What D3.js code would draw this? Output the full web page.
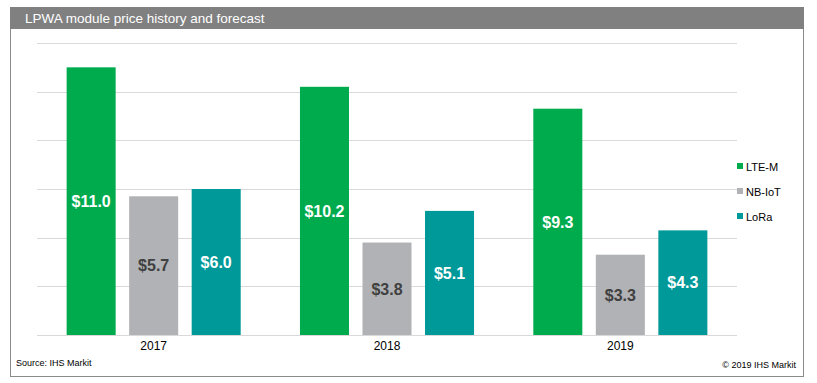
<!DOCTYPE html>
<html><head><meta charset="utf-8">
<script src="https://cdn.jsdelivr.net/npm/d3@7"></script>
<style>body{margin:0;background:#fff;}svg{display:block;font-family:"Liberation Sans",Arial,sans-serif;}</style>
</head><body><svg id="c" width="817" height="383"></svg>
<script>
const years = ["2017","2018","2019"];
const seriesNames = ["LTE-M","NB-IoT","LoRa"];
const lteM = [11.0, 10.2, 9.3];
const nbIoT = [5.7, 3.8, 3.3];
const loRa = [6.0, 5.1, 4.3];
const yTicks = [0,2,4,6,8,10,12];
const colors = ["#00ab4e","#b1b2b5","#009999"];
const labelColors = ["#ffffff","#404040","#ffffff"];
const values = [lteM, nbIoT, loRa];

(function(){
const svg = d3.select("#c");
// panel
svg.append("rect").attr("x",10.5).attr("y",7.5).attr("width",793).attr("height",369).attr("fill","#fff").attr("stroke","#8a8a8a").attr("stroke-width",1);
svg.append("rect").attr("x",10).attr("y",7).attr("width",794).attr("height",22).attr("fill","#7f807f");
svg.append("text").attr("x",25).attr("y",23).attr("fill","#fff").attr("font-size",13.5).text("LPWA module price history and forecast");

const pLeft=37, pRight=737, pTop=43, pBottom=335;
const y = d3.scaleLinear().domain([0,12]).range([pBottom, pTop]);
const x0 = d3.scaleBand().domain(years).range([pLeft,pRight]).paddingInner(0.254).paddingOuter(0.127);
const x1 = d3.scaleBand().domain(seriesNames).range([0,x0.bandwidth()]).paddingInner(0.216).paddingOuter(0);

// gridlines
svg.append("g").selectAll("line").data(yTicks).join("line")
  .attr("x1",pLeft).attr("x2",pRight).attr("y1",d=>Math.round(y(d))+0.5).attr("y2",d=>Math.round(y(d))+0.5)
  .attr("stroke","#d9d9d9").attr("stroke-width",1);

// bars
const g = svg.append("g");
years.forEach((yr,i)=>{
  seriesNames.forEach((s,j)=>{
    const v = values[j][i];
    const bx = x0(yr)+x1(s);
    g.append("rect").attr("x",bx).attr("y",y(v)).attr("width",x1.bandwidth()).attr("height",y(0)-y(v)).attr("fill",colors[j]);
    g.append("text").attr("x",bx+x1.bandwidth()/2).attr("y",(y(v)+y(0))/2).attr("dy","0.36em")
      .attr("text-anchor","middle").attr("font-size",16).attr("font-weight","bold").attr("fill",labelColors[j])
      .text("$"+v.toFixed(1));
  });
});

// x axis
const xAxis = d3.axisBottom(x0).tickSize(0).tickPadding(0);
const ax = svg.append("g").attr("transform",`translate(0,${pBottom})`).call(xAxis);
ax.select(".domain").remove();
ax.selectAll("text").attr("font-size",12).attr("fill","#000").attr("dy","0").attr("y",15).style("font-family","Liberation Sans, Arial, sans-serif");

// legend
const lg = svg.append("g");
seriesNames.forEach((s,j)=>{
  const ly = 167 + j*25;
  lg.append("rect").attr("x",737).attr("y",ly-4).attr("width",6).attr("height",6).attr("fill",colors[j]);
  lg.append("text").attr("x",746).attr("y",ly).attr("dy","0.35em").attr("font-size",11).attr("fill","#000").text(s);
});

svg.append("text").attr("x",16).attr("y",366).attr("font-size",9).attr("fill","#000").text("Source: IHS Markit");
svg.append("text").attr("x",796).attr("y",368).attr("text-anchor","end").attr("font-size",9).attr("fill","#000").text("© 2019 IHS Markit");
})();
</script></body></html>
